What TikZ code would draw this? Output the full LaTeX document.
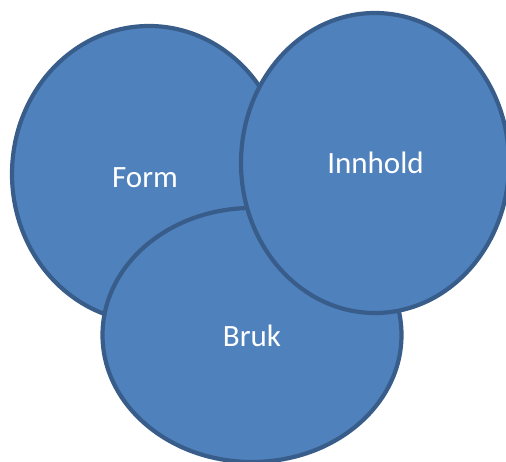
\documentclass[tikz,border=0pt]{standalone}
\usepackage{fontspec}
\setmainfont{Carlito}
\usetikzlibrary{shapes.geometric}
\definecolor{circfill}{HTML}{4F81BD}
\definecolor{circline}{HTML}{385D8A}
\tikzset{blob/.style={ellipse, draw=circline, fill=circfill, line width=4.2pt, inner sep=0pt}}
\tikzset{lbl/.style={anchor=base, inner sep=0pt, text=white, font=\fontsize{31}{37}\selectfont}}

\begin{document}
\begin{tikzpicture}[x=1pt, y=-1pt]
  \useasboundingbox (0,0) rectangle (506,462);

  \node[blob, minimum width=274pt, minimum height=296pt] (form) at (149,174) {};
  \node[blob, minimum width=299pt, minimum height=254pt] (bruk) at (252,335) {};
  \node[blob, minimum width=268pt, minimum height=300pt] (innhold) at (375,163) {};

  \node[lbl] (formtext) at (145,188) {Form};
  \node[lbl] (bruktext) at (252,346) {Bruk};
  \node[lbl] (innholdtext) at (375.5,174) {Innhold};

\end{tikzpicture}
\end{document}
